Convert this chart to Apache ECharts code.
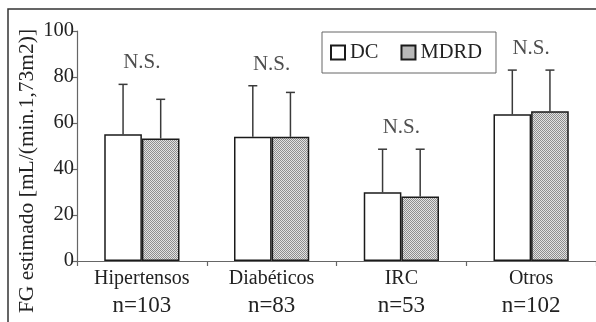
<!DOCTYPE html>
<html><head><meta charset="utf-8">
<script src="https://cdn.jsdelivr.net/npm/echarts@6/dist/echarts.min.js"></script>
<style>html,body{margin:0;padding:0;background:#fff}#c{width:596px;height:322px}</style>
</head><body><div id="c"></div>
<script>
var categories = ['Hipertensos', 'Diabéticos', 'IRC', 'Otros'];
var nValues = [103, 83, 53, 102];
var dcMean = [55.1, 54.0, 29.9, 63.8];
var dcSd = [21.7, 22.2, 18.7, 19.2];
var mdrdMean = [53.3, 54.0, 28.0, 65.1];
var mdrdSd = [17.0, 19.3, 20.6, 17.9];
var yTicks = [0, 20, 40, 60, 80, 100];
var sigLabel = 'N.S.';
var yTitle = 'FG estimado [mL/(min.1,73m2)]';

var FONT = '"Liberation Serif", "Times New Roman", serif';
var pc = document.createElement('canvas');
pc.width = 2; pc.height = 2;
var g = pc.getContext('2d');
g.fillStyle = '#e2e2e2'; g.fillRect(0, 0, 2, 2);
g.fillStyle = '#8e8e8e'; g.fillRect(0, 0, 1, 1); g.fillRect(1, 1, 1, 1);
var pattern = { image: pc, repeat: 'repeat' };

var BAR_FRAC = 0.29;
function errSeries(means, sds, side) {
  return {
    type: 'custom',
    z: 1,
    silent: true,
    data: means.map(function (m, i) { return [i, m, m + sds[i]]; }),
    renderItem: function (params, api) {
      var bw = api.size([1, 0])[0] * BAR_FRAC;
      var p0 = api.coord([api.value(0), api.value(1)]);
      var p1 = api.coord([api.value(0), api.value(2)]);
      var x = p0[0] + side * bw / 2;
      var st = { stroke: '#3a3a3a', lineWidth: 1.5 };
      return { type: 'group', children: [
        { type: 'line', shape: { x1: x, y1: p0[1], x2: x, y2: p1[1] }, style: st },
        { type: 'line', shape: { x1: x - 4.5, y1: p1[1], x2: x + 4.5, y2: p1[1] }, style: st }
      ]};
    }
  };
}

var chart = echarts.init(document.getElementById('c'));
chart.setOption({
  backgroundColor: '#fff',
  animation: false,
  textStyle: { fontFamily: FONT },
  graphic: [{
    type: 'rect', z: -10, silent: true,
    shape: { x: 8, y: 9, width: 620, height: 340 },
    style: { fill: 'none', stroke: '#333', lineWidth: 1.5 }
  }, {
    type: 'text', silent: true,
    x: 27, y: 171, rotation: Math.PI / 2,
    style: { text: yTitle, font: '21.5px ' + FONT, fill: '#222',
      align: 'center', verticalAlign: 'middle' }
  }],
  legend: {
    left: 322, top: 32,
    padding: [10, 14, 10, 8],
    borderColor: '#666', borderWidth: 1,
    itemWidth: 14, itemHeight: 14, itemGap: 22,
    icon: 'rect',
    textStyle: { fontFamily: FONT, fontSize: 20.5, color: '#222' },
    data: ['DC', 'MDRD']
  },
  grid: { left: 77, right: -5, top: 31, bottom: 61 },
  xAxis: {
    type: 'category',
    data: categories,
    axisLine: { lineStyle: { color: '#666', width: 1.2 } },
    axisTick: { show: true, length: 5, lineStyle: { color: '#666', width: 1.2 } },
    axisLabel: {
      margin: 5,
      fontFamily: FONT,
      formatter: function (v, i) { return '{a|' + v + '}\n{b|n=' + nValues[i] + '}'; },
      rich: {
        a: { fontFamily: FONT, fontSize: 20, lineHeight: 25, color: '#222' },
        b: { fontFamily: FONT, fontSize: 23, lineHeight: 30, color: '#222' }
      }
    }
  },
  yAxis: {
    type: 'value', min: yTicks[0], max: yTicks[yTicks.length - 1], interval: 20,
    axisLine: { show: true, lineStyle: { color: '#666', width: 1.2 } },
    axisTick: { show: true, length: 5, lineStyle: { color: '#666', width: 1.2 } },
    splitLine: { show: false },
    axisLabel: { margin: 3, fontFamily: FONT, fontSize: 20.5, color: '#222' }
  },
  series: [
    {
      name: 'DC', type: 'bar', data: dcMean, barWidth: (BAR_FRAC * 100) + '%', barGap: '0%', z: 2,
      itemStyle: { color: '#fff', borderColor: '#1a1a1a', borderWidth: 1.5 }
    },
    {
      name: 'MDRD', type: 'bar', data: mdrdMean, barWidth: (BAR_FRAC * 100) + '%', barGap: '0%', z: 2,
      itemStyle: { color: pattern, borderColor: '#1a1a1a', borderWidth: 1.5 }
    },
    errSeries(dcMean, dcSd, -1),
    errSeries(mdrdMean, mdrdSd, 1),
    {
      type: 'scatter', symbolSize: 0, silent: true,
      data: categories.map(function (c, i) {
        return [i, Math.max(dcMean[i] + dcSd[i], mdrdMean[i] + mdrdSd[i])];
      }),
      label: { show: true, position: 'top', distance: 11, formatter: sigLabel,
        fontFamily: FONT, fontSize: 21, color: '#222' }
    }
  ]
});
</script></body></html>
